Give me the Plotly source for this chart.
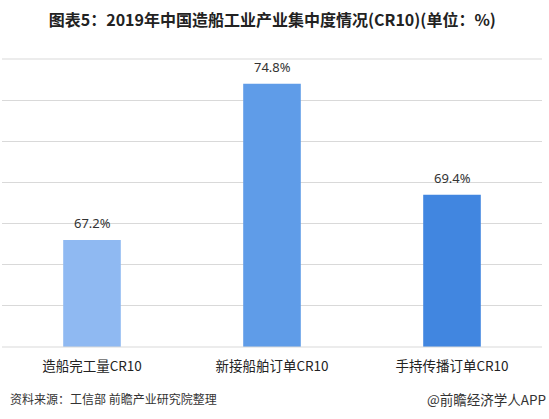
import plotly.graph_objects as go

# 2019 China shipbuilding industry concentration (CR10), %
categories = ['造船完工量CR10', '新接船舶订单CR10', '手持传播订单CR10']
values = [67.2, 74.8, 69.4]
bar_colors = ['#8FB9F2', '#5F9CE8', '#4186E0']

fig = go.Figure()
fig.add_trace(go.Bar(
    x=categories,
    y=values,
    marker=dict(color=bar_colors, line=dict(width=0)),
    width=0.32,
    hoverinfo='x+y',
))

# value labels above the bars
labels = [
    dict(x=c, y=v, xref='x', yref='y', text=f'{v}%', showarrow=False,
         yanchor='middle', yshift=17,
         font=dict(size=13, color='#333333', family='Noto Sans, sans-serif'))
    for c, v in zip(categories, values)
]

fig.update_layout(
    width=549, height=419,
    margin=dict(l=2, r=7, t=59, b=72, autoexpand=False),
    paper_bgcolor='white',
    plot_bgcolor='white',
    showlegend=False,
    font=dict(family='Noto Sans CJK SC, sans-serif', color='#333333'),
    title=dict(
        text='<b>图表5：2019年中国造船工业产业集中度情况(CR10)(单位：%)</b>',
        x=0.496, xanchor='center', y=0.952, yanchor='middle',
        font=dict(size=16, color='#222222', family='Noto Sans CJK SC, sans-serif'),
    ),
    xaxis=dict(
        showline=False, ticks='', showgrid=False, automargin=False,
        ticklabelstandoff=9,
        tickfont=dict(size=13.5, color='#222222'),
    ),
    yaxis=dict(
        range=[62, 76], dtick=2, showticklabels=False, automargin=False,
        showgrid=True, gridcolor='#D9D9D9', gridwidth=1,
        zeroline=False, showline=False,
    ),
    shapes=[
        dict(type='line', xref='paper', yref='paper', x0=0, x1=1, y0=1, y1=1,
             line=dict(color='#D9D9D9', width=1)),
        dict(type='line', xref='paper', yref='paper', x0=0, x1=1, y0=0, y1=0,
             line=dict(color='#D9D9D9', width=1)),
    ],
    annotations=labels + [
        dict(text='资料来源：工信部 前瞻产业研究院整理', xref='paper', yref='paper',
             x=0, y=-0.18, xanchor='left', yanchor='middle', xshift=6, showarrow=False,
             font=dict(size=12, color='#333333')),
        dict(text='@前瞻经济学人APP', xref='paper', yref='paper',
             x=1, y=-0.18, xanchor='right', yanchor='middle', xshift=6, showarrow=False,
             font=dict(size=13.5, color='#333333')),
    ],
)

# drop the default page margin so the figure sits at the window's corner
fig.write_html('out.html', config={'displayModeBar': False},
               post_script="document.body.style.margin='0px';")
